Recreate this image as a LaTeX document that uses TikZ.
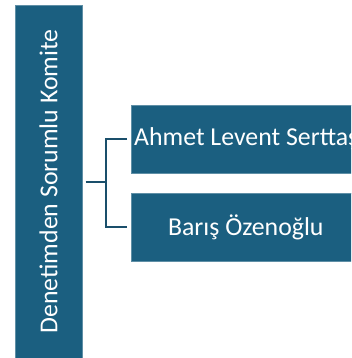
\documentclass[tikz,border=0pt]{standalone}
\usepackage{fontspec}
\setmainfont{Carlito}
\definecolor{boxblue}{HTML}{1B5F80}
\definecolor{lineblue}{HTML}{1A4F6B}
\begin{document}
\begin{tikzpicture}[x=1pt,y=-1pt,
  lbl/.style={text=white,font=\fontsize{25.8}{30}\selectfont},
  box/.style={fill=boxblue,draw=boxblue!70!white,line width=0.6pt,inner sep=0pt,lbl},
  conn/.style={draw=lineblue,line width=2.2pt}]
\useasboundingbox (0,0) rectangle (351,358);
\begin{scope}
\clip (0,0) rectangle (351,358);
\node[box,minimum width=67pt,minimum height=370pt,anchor=north west] (root) at (15,5) {};
\node[rotate=90,lbl] (roottext) at (48.5,181.5) {Denetimden Sorumlu Komite};
\node[box,minimum width=240pt,minimum height=68pt,anchor=north west] (a) at (131,105) {};
\node[lbl,anchor=west,inner sep=0pt] (atext) at (134,139) {Ahmet Levent Serttaş};
\node[box,minimum width=229pt,minimum height=68pt,anchor=north west] (b) at (131,193) {Barış Özenoğlu};
\end{scope}
\coordinate (j) at (106,182);
\draw[conn] ([xshift=3pt]root.east |- j) -- (j);
\draw[conn] ([xshift=-4pt]a.west) -| (j);
\draw[conn] ([xshift=-4pt]b.west) -| (j);
\end{tikzpicture}
\end{document}
